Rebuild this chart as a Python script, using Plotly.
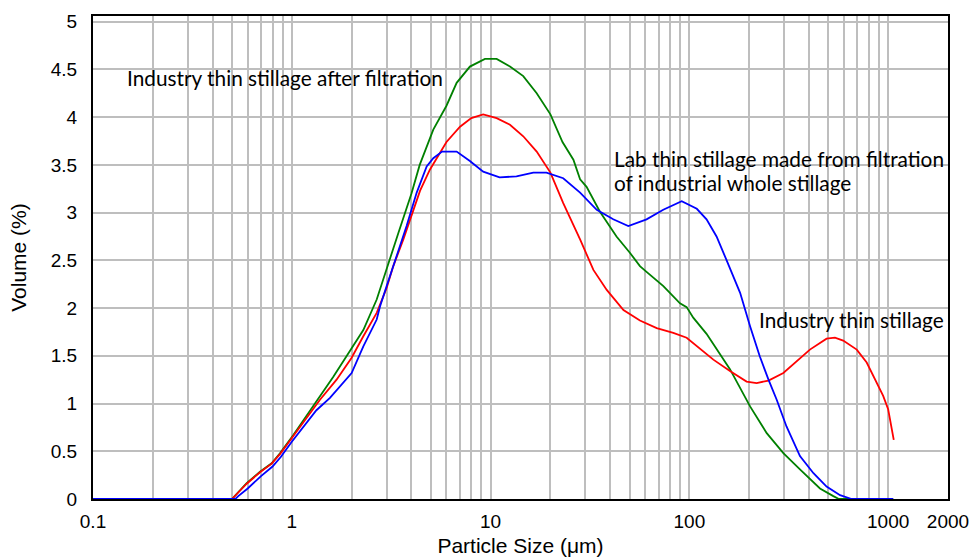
import plotly.graph_objects as go

# ---- data ----
green_x = [0.1, 0.3, 0.5, 0.593, 0.692, 0.792, 0.872, 1.018, 1.386, 1.618, 2.0, 2.29, 2.674, 3.0,
           3.44, 4.0, 4.4, 5.15, 6.0, 6.75, 7.87, 9.37, 10.73, 12.52, 14.6, 17.06, 20.0, 23.0,
           26.1, 28.2, 30.4, 35.5, 43.0, 50.2, 56.4, 60.9, 74.0, 89.7, 96.9, 104.6, 122.0,
           160.0, 202.0, 245.0, 297.0, 360.0, 454.0, 530.0, 565.0, 1060.0]
green_y = [0, 0, 0, 0.165, 0.286, 0.374, 0.479, 0.671, 1.07, 1.28, 1.58, 1.77, 2.09, 2.40,
           2.79, 3.20, 3.50, 3.87, 4.12, 4.36, 4.53, 4.61, 4.61, 4.53, 4.43, 4.25, 4.03, 3.74,
           3.555, 3.35, 3.27, 3.01, 2.75, 2.58, 2.44, 2.38, 2.23, 2.05, 2.01, 1.90, 1.73,
           1.36, 0.97, 0.69, 0.48, 0.31, 0.11, 0.03, 0, 0]

red_x = [0.1, 0.3, 0.5, 0.593, 0.692, 0.792, 0.872, 1.018, 1.386, 1.68, 2.0, 2.29, 2.674, 3.0,
         3.24, 3.64, 4.0, 4.42, 4.95, 6.0, 7.02, 8.0, 9.18, 10.73, 12.52, 14.6, 17.06, 20.0,
         23.2, 28.2, 32.9, 38.4, 46.6, 56.4, 68.5, 83.0, 96.9, 109.0, 132.0, 160.0, 194.0,
         218.0, 250.0, 297.0, 347.0, 404.0, 490.0, 540.0, 594.0, 695.0, 780.0, 875.0, 944.0,
         1000.0, 1040.0, 1067.0]
red_y = [0, 0, 0, 0.16, 0.28, 0.37, 0.47, 0.66, 1.04, 1.25, 1.48, 1.705, 1.95, 2.21,
         2.44, 2.72, 2.96, 3.23, 3.45, 3.74, 3.90, 3.99, 4.03, 3.99, 3.92, 3.80, 3.64, 3.42,
         3.10, 2.72, 2.40, 2.19, 1.98, 1.87, 1.79, 1.74, 1.69, 1.60, 1.46, 1.34, 1.23,
         1.215, 1.24, 1.32, 1.44, 1.565, 1.68, 1.69, 1.66, 1.565, 1.43, 1.22, 1.08,
         0.94, 0.73, 0.62]

blue_x = [0.1, 0.3, 0.52, 0.538, 0.6, 0.7, 0.8, 0.88, 1.0, 1.33, 1.556, 2.0, 2.29, 2.674, 2.78,
          3.0, 3.37, 3.78, 4.25, 4.77, 5.15, 5.7, 6.75, 7.87, 9.18, 11.1, 13.5, 16.4, 19.1,
          23.2, 28.2, 34.2, 41.4, 49.3, 60.9, 73.9, 91.5, 109.0, 122.0, 137.0, 154.0, 180.0,
          202.0, 226.0, 250.0, 275.0, 308.0, 360.0, 421.0, 490.0, 573.0, 620.0, 655.0, 1060.0]
blue_y = [0, 0, 0, 0.03, 0.11, 0.24, 0.34, 0.44, 0.60, 0.93, 1.06, 1.32, 1.60, 1.88, 2.02,
          2.23, 2.54, 2.86, 3.21, 3.485, 3.57, 3.64, 3.64, 3.54, 3.43, 3.37, 3.38, 3.42, 3.42,
          3.36, 3.21, 3.03, 2.93, 2.86, 2.93, 3.03, 3.12, 3.04, 2.93, 2.75, 2.50, 2.16,
          1.81, 1.495, 1.25, 1.04, 0.76, 0.45, 0.27, 0.13, 0.04, 0.02, 0, 0]

x_grid_vals = [0.1, 0.2, 0.3, 0.4, 0.5, 0.6, 0.7, 0.8, 0.9,
               1, 2, 3, 4, 5, 6, 7, 8, 9,
               10, 20, 30, 40, 50, 60, 70, 80, 90,
               100, 200, 300, 400, 500, 600, 700, 800, 900,
               1000, 2000]
x_labeled = {0.1: "0.1", 1: "1", 10: "10", 100: "100", 1000: "1000", 2000: "2000"}
x_tick_text = [x_labeled.get(v, "") for v in x_grid_vals]

y_tick_vals = [0, 0.5, 1, 1.5, 2, 2.5, 3, 3.5, 4, 4.5, 5]
y_tick_text = ["0", "0.5", "1", "1.5", "2", "2.5", "3", "3.5", "4", "4.5", "5"]

label_after = "Industry thin stillage after filtration"
label_lab_1 = "Lab thin stillage made from filtration"
label_lab_2 = "of industrial whole stillage"
label_ind = "Industry thin stillage"

# ---- figure ----
fig = go.Figure()
fig.add_trace(go.Scatter(x=green_x, y=green_y, mode="lines",
                         line=dict(color="#008000", width=1.8), name="after filtration"))
fig.add_trace(go.Scatter(x=red_x, y=red_y, mode="lines",
                         line=dict(color="#FF0000", width=1.8), name="industry"))
fig.add_trace(go.Scatter(x=blue_x, y=blue_y, mode="lines",
                         line=dict(color="#0000FF", width=1.8), name="lab"))

tick_font = dict(family="Liberation Sans, Arial, sans-serif", size=19, color="black")
title_font = dict(family="Liberation Sans, Arial, sans-serif", size=21, color="black")
grid_col = "#BEBEBE"

fig.update_xaxes(type="log", range=[-1, 3.30103], automargin=False,
                 tickmode="array", tickvals=x_grid_vals, ticktext=x_tick_text,
                 showgrid=True, gridcolor=grid_col, gridwidth=1.6,
                 showline=True, linecolor="black", linewidth=2, mirror=True,
                 ticks="", tickfont=tick_font, zeroline=False, ticklabelstandoff=4,
                 title=dict(text="Particle Size (μm)", font=title_font, standoff=8))
fig.update_yaxes(range=[0, 5.06], automargin=False,
                 tickmode="array", tickvals=y_tick_vals, ticktext=y_tick_text,
                 showgrid=True, gridcolor=grid_col, gridwidth=1.6,
                 showline=True, linecolor="black", linewidth=2, mirror=True,
                 ticks="", tickfont=tick_font, zeroline=False, ticklabelstandoff=10,
                 title=dict(text="Volume (%)", font=title_font, standoff=18))

ann_font = dict(family="Lato, Noto Sans, sans-serif", size=20.8, color="black")
fig.add_annotation(x=0.0374, y=0.872, xref="paper", yref="paper", text=label_after,
                   showarrow=False, xanchor="left", yanchor="middle", font=ann_font)
fig.add_annotation(x=0.607, y=0.706, xref="paper", yref="paper", text=label_lab_1,
                   showarrow=False, xanchor="left", yanchor="middle", font=ann_font)
fig.add_annotation(x=0.607, y=0.656, xref="paper", yref="paper", text=label_lab_2,
                   showarrow=False, xanchor="left", yanchor="middle", font=ann_font)
fig.add_annotation(x=0.777, y=0.371, xref="paper", yref="paper", text=label_ind,
                   showarrow=False, xanchor="left", yanchor="middle", font=ann_font)

fig.update_layout(width=973, height=559, margin=dict(l=93, r=25, t=16, b=60),
                  plot_bgcolor="white", paper_bgcolor="white", showlegend=False)

fig.write_html("out.html")
